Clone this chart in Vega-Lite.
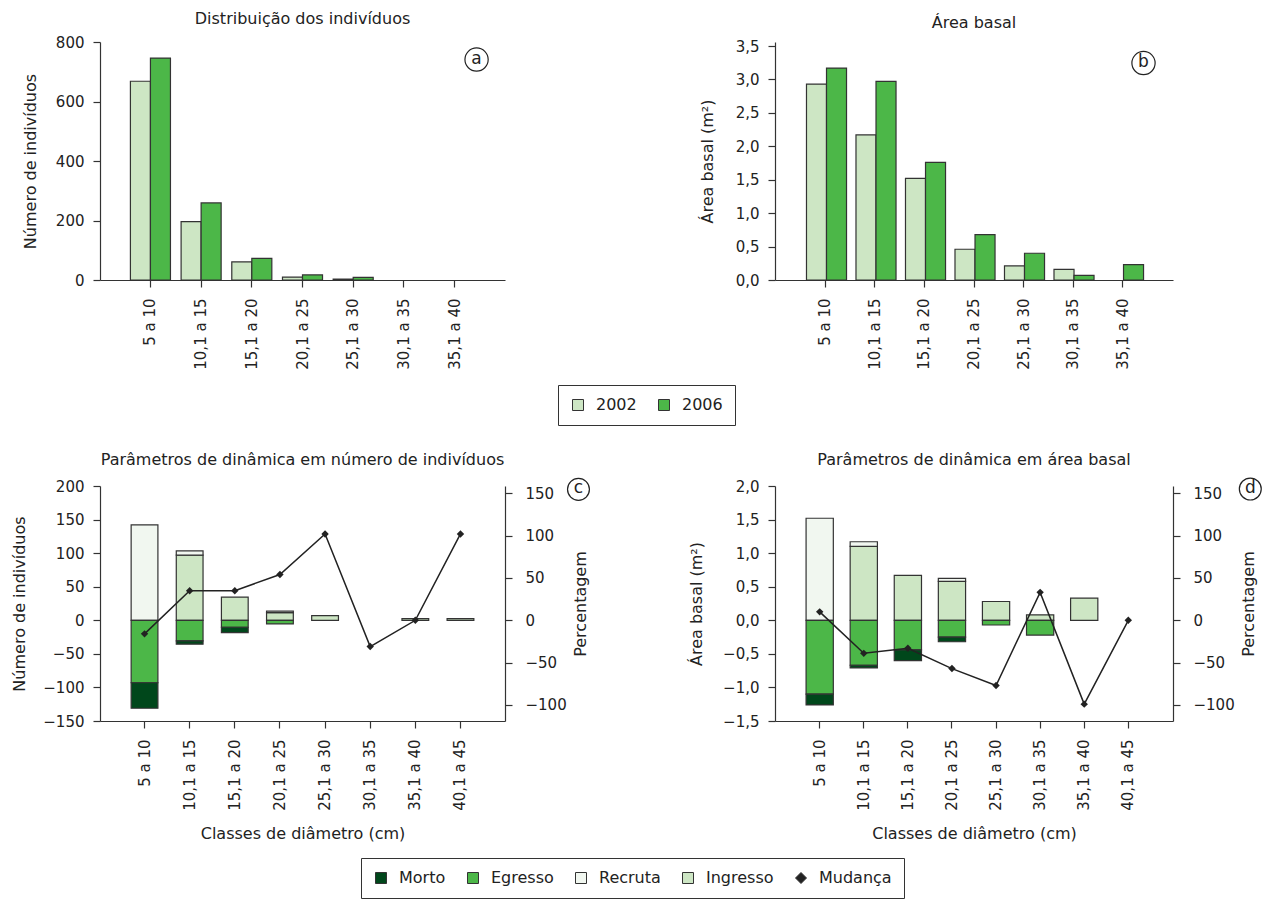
{
  "$schema": "https://vega.github.io/schema/vega-lite/v6.json",
  "padding": {"left": 11, "top": 11, "right": 5, "bottom": 5},
  "datasets": {
    "ind": [
      {"classe": "5 a 10", "ano": "2002", "n": 668}, {"classe": "5 a 10", "ano": "2006", "n": 746},
      {"classe": "10,1 a 15", "ano": "2002", "n": 196}, {"classe": "10,1 a 15", "ano": "2006", "n": 259},
      {"classe": "15,1 a 20", "ano": "2002", "n": 61}, {"classe": "15,1 a 20", "ano": "2006", "n": 73},
      {"classe": "20,1 a 25", "ano": "2002", "n": 10}, {"classe": "20,1 a 25", "ano": "2006", "n": 17},
      {"classe": "25,1 a 30", "ano": "2002", "n": 3}, {"classe": "25,1 a 30", "ano": "2006", "n": 9}
    ],
    "ab": [
      {"classe": "5 a 10", "ano": "2002", "area": 2.93}, {"classe": "5 a 10", "ano": "2006", "area": 3.17},
      {"classe": "10,1 a 15", "ano": "2002", "area": 2.17}, {"classe": "10,1 a 15", "ano": "2006", "area": 2.97},
      {"classe": "15,1 a 20", "ano": "2002", "area": 1.52}, {"classe": "15,1 a 20", "ano": "2006", "area": 1.76},
      {"classe": "20,1 a 25", "ano": "2002", "area": 0.46}, {"classe": "20,1 a 25", "ano": "2006", "area": 0.68},
      {"classe": "25,1 a 30", "ano": "2002", "area": 0.21}, {"classe": "25,1 a 30", "ano": "2006", "area": 0.40},
      {"classe": "30,1 a 35", "ano": "2002", "area": 0.16}, {"classe": "30,1 a 35", "ano": "2006", "area": 0.07},
      {"classe": "35,1 a 40", "ano": "2006", "area": 0.23}
    ],
    "dinN": [
      {"classe": "5 a 10", "tipo": "Recruta", "valor": 142}, {"classe": "5 a 10", "tipo": "Egresso", "valor": -93}, {"classe": "5 a 10", "tipo": "Morto", "valor": -38},
      {"classe": "10,1 a 15", "tipo": "Ingresso", "valor": 97}, {"classe": "10,1 a 15", "tipo": "Recruta", "valor": 6.5}, {"classe": "10,1 a 15", "tipo": "Egresso", "valor": -30.6}, {"classe": "10,1 a 15", "tipo": "Morto", "valor": -5},
      {"classe": "15,1 a 20", "tipo": "Ingresso", "valor": 34.6}, {"classe": "15,1 a 20", "tipo": "Egresso", "valor": -10.4}, {"classe": "15,1 a 20", "tipo": "Morto", "valor": -8},
      {"classe": "20,1 a 25", "tipo": "Ingresso", "valor": 11.5}, {"classe": "20,1 a 25", "tipo": "Recruta", "valor": 2}, {"classe": "20,1 a 25", "tipo": "Egresso", "valor": -5.4},
      {"classe": "25,1 a 30", "tipo": "Ingresso", "valor": 7},
      {"classe": "35,1 a 40", "tipo": "Ingresso", "valor": 2.5},
      {"classe": "40,1 a 45", "tipo": "Ingresso", "valor": 2.5}
    ],
    "dinA": [
      {"classe": "5 a 10", "tipo": "Recruta", "valor": 1.52}, {"classe": "5 a 10", "tipo": "Egresso", "valor": -1.10}, {"classe": "5 a 10", "tipo": "Morto", "valor": -0.16},
      {"classe": "10,1 a 15", "tipo": "Ingresso", "valor": 1.10}, {"classe": "10,1 a 15", "tipo": "Recruta", "valor": 0.07}, {"classe": "10,1 a 15", "tipo": "Egresso", "valor": -0.67}, {"classe": "10,1 a 15", "tipo": "Morto", "valor": -0.04},
      {"classe": "15,1 a 20", "tipo": "Ingresso", "valor": 0.67}, {"classe": "15,1 a 20", "tipo": "Egresso", "valor": -0.44}, {"classe": "15,1 a 20", "tipo": "Morto", "valor": -0.16},
      {"classe": "20,1 a 25", "tipo": "Ingresso", "valor": 0.58}, {"classe": "20,1 a 25", "tipo": "Recruta", "valor": 0.045}, {"classe": "20,1 a 25", "tipo": "Egresso", "valor": -0.25}, {"classe": "20,1 a 25", "tipo": "Morto", "valor": -0.07},
      {"classe": "25,1 a 30", "tipo": "Ingresso", "valor": 0.28}, {"classe": "25,1 a 30", "tipo": "Egresso", "valor": -0.07},
      {"classe": "30,1 a 35", "tipo": "Ingresso", "valor": 0.08}, {"classe": "30,1 a 35", "tipo": "Egresso", "valor": -0.22},
      {"classe": "35,1 a 40", "tipo": "Ingresso", "valor": 0.33}
    ],
    "mudN": [
      {"classe": "5 a 10", "pct": -16}, {"classe": "10,1 a 15", "pct": 35}, {"classe": "15,1 a 20", "pct": 35}, {"classe": "20,1 a 25", "pct": 54},
      {"classe": "25,1 a 30", "pct": 102}, {"classe": "30,1 a 35", "pct": -31}, {"classe": "35,1 a 40", "pct": 0}, {"classe": "40,1 a 45", "pct": 102}
    ],
    "mudA": [
      {"classe": "5 a 10", "pct": 10}, {"classe": "10,1 a 15", "pct": -39}, {"classe": "15,1 a 20", "pct": -33}, {"classe": "20,1 a 25", "pct": -57},
      {"classe": "25,1 a 30", "pct": -77}, {"classe": "30,1 a 35", "pct": 33}, {"classe": "35,1 a 40", "pct": -99}, {"classe": "40,1 a 45", "pct": 0}
    ]
  },
  "concat": [
    {
      "width": 405, "height": 238,
      "title": "Distribuição dos indivíduos",
      "layer": [
        {
          "data": {"name": "ind"},
          "mark": {"type": "bar", "stroke": "#333", "strokeWidth": 1.2},
          "encoding": {
            "x": {"field": "classe", "type": "nominal",
                  "scale": {"domain": ["5 a 10","10,1 a 15","15,1 a 20","20,1 a 25","25,1 a 30","30,1 a 35","35,1 a 40"], "paddingInner": 0.21, "paddingOuter": 0.6},
                  "axis": {"title": null, "labelAngle": -90, "labelPadding": 11}},
            "xOffset": {"field": "ano", "type": "nominal", "scale": {"domain": ["2002", "2006"], "paddingInner": 0}},
            "y": {"field": "n", "type": "quantitative", "scale": {"domain": [0, 800], "nice": false},
                  "axis": {"values": [0, 200, 400, 600, 800], "tickCount": 20, "title": "Número de indivíduos", "titlePadding": 17}},
            "color": {"field": "ano", "type": "nominal",
                      "scale": {"domain": ["2002", "2006"], "range": ["#cde6c4", "#4cb748"]},
                      "legend": {"orient": "none", "legendX": 458, "legendY": 343, "direction": "horizontal", "title": null, "columnPadding": 19}}
          }
        },
        {
          "data": {"values": [{"letra": "a"}]},
          "mark": {"type": "point", "shape": "circle", "size": 540, "filled": false, "stroke": "#222", "strokeWidth": 1.2, "opacity": 1, "xOffset": 22},
          "encoding": {"x": {"datum": "35,1 a 40"}, "y": {"datum": 741}}
        },
        {
          "data": {"values": [{"letra": "a"}]},
          "mark": {"type": "text", "fontSize": 17, "color": "#222", "baseline": "middle", "align": "center", "xOffset": 22, "yOffset": -1},
          "encoding": {"x": {"datum": "35,1 a 40"}, "y": {"datum": 741}, "text": {"field": "letra"}}
        }
      ]
    },
    {
      "width": 398, "height": 238,
      "title": "Área basal",
      "layer": [
        {
          "data": {"name": "ab"},
          "mark": {"type": "bar", "stroke": "#333", "strokeWidth": 1.2},
          "encoding": {
            "x": {"field": "classe", "type": "nominal",
                  "scale": {"domain": ["5 a 10","10,1 a 15","15,1 a 20","20,1 a 25","25,1 a 30","30,1 a 35","35,1 a 40"], "paddingInner": 0.232, "paddingOuter": 0.636},
                  "axis": {"title": null, "labelAngle": -90, "labelPadding": 11}},
            "xOffset": {"field": "ano", "type": "nominal", "scale": {"domain": ["2002", "2006"], "paddingInner": 0}},
            "y": {"field": "area", "type": "quantitative", "scale": {"domain": [0, 3.56], "nice": false},
                  "axis": {"values": [0, 0.5, 1, 1.5, 2, 2.5, 3, 3.5], "tickCount": 20, "title": "Área basal (m²)", "titlePadding": 20,
                           "labelExpr": "replace(format(datum.value, '.1f'), '.', ',')"}},
            "color": {"field": "ano", "type": "nominal",
                      "scale": {"domain": ["2002", "2006"], "range": ["#cde6c4", "#4cb748"]},
                      "legend": null}
          }
        },
        {
          "data": {"values": [{"letra": "b"}]},
          "mark": {"type": "point", "shape": "circle", "size": 540, "filled": false, "stroke": "#222", "strokeWidth": 1.2, "opacity": 1, "xOffset": 21},
          "encoding": {"x": {"datum": "35,1 a 40"}, "y": {"datum": 3.245}}
        },
        {
          "data": {"values": [{"letra": "b"}]},
          "mark": {"type": "text", "fontSize": 17, "color": "#222", "baseline": "middle", "align": "center", "xOffset": 21, "yOffset": -1},
          "encoding": {"x": {"datum": "35,1 a 40"}, "y": {"datum": 3.245}, "text": {"field": "letra"}}
        }
      ]
    },
    {
      "width": 405, "height": 235,
      "title": "Parâmetros de dinâmica em número de indivíduos",
      "resolve": {"scale": {"y": "independent"}},
      "layer": [
        {
          "layer": [
            {
              "data": {"name": "dinN"},
              "mark": {"type": "bar", "stroke": "#333", "strokeWidth": 1.2},
              "encoding": {
                "x": {"field": "classe", "type": "nominal",
                      "scale": {"domain": ["5 a 10","10,1 a 15","15,1 a 20","20,1 a 25","25,1 a 30","30,1 a 35","35,1 a 40","40,1 a 45"], "paddingInner": 0.407, "paddingOuter": 0.69},
                      "axis": {"title": "Classes de diâmetro (cm)", "labelAngle": -90, "labelPadding": 11, "titlePadding": 15}},
                "y": {"field": "valor", "type": "quantitative", "aggregate": "sum", "stack": "zero",
                      "scale": {"domain": [-150, 200], "nice": false},
                      "axis": {"orient": "left", "values": [-150, -100, -50, 0, 50, 100, 150, 200], "tickCount": 20, "title": "Número de indivíduos", "titlePadding": 15}},
                "order": {"field": "tipo", "sort": "ascending"},
                "color": {"field": "tipo", "type": "nominal",
                          "scale": {"domain": ["Morto", "Egresso", "Recruta", "Ingresso", "Mudança"], "range": ["#00471b", "#4cb748", "#f1f7f0", "#cde6c4", "#222222"]},
                          "legend": {"orient": "none", "legendX": 261, "legendY": 372, "direction": "horizontal", "title": null, "columnPadding": 19,
                                     "encode": {"symbols": {"update": {"shape": {"signal": "datum.value === 'Mudança' ? 'diamond' : 'square'"}}}}}}
              }
            },
            {
              "mark": {"type": "rule", "color": "#222", "strokeWidth": 1.2},
              "encoding": {"y": {"datum": 0}}
            },
            {
              "data": {"values": [{"letra": "c"}]},
              "mark": {"type": "point", "shape": "circle", "size": 480, "filled": false, "stroke": "#222", "strokeWidth": 1.2, "opacity": 1, "xOffset": 118},
              "encoding": {"x": {"datum": "40,1 a 45"}, "y": {"datum": 195}}
            },
            {
              "data": {"values": [{"letra": "c"}]},
              "mark": {"type": "text", "fontSize": 17, "color": "#222", "baseline": "middle", "align": "center", "xOffset": 118, "yOffset": -1},
              "encoding": {"x": {"datum": "40,1 a 45"}, "y": {"datum": 195}, "text": {"field": "letra"}}
            }
          ]
        },
        {
          "data": {"name": "mudN"},
          "encoding": {
            "x": {"field": "classe", "type": "nominal"},
            "y": {"field": "pct", "type": "quantitative", "scale": {"domain": [-118.9, 158.6], "nice": false},
                  "axis": {"orient": "right", "values": [-100, -50, 0, 50, 100, 150], "tickCount": 20, "title": "Percentagem", "titleAngle": -90, "labelPadding": 13, "titlePadding": 22}},
            "order": {"value": null}
          },
          "layer": [
            {"mark": {"type": "line", "color": "#222", "strokeWidth": 1.5}},
            {"mark": {"type": "point", "shape": "diamond", "filled": true, "color": "#222", "size": 55, "opacity": 1}}
          ]
        }
      ]
    },
    {
      "width": 398, "height": 235,
      "title": "Parâmetros de dinâmica em área basal",
      "resolve": {"scale": {"y": "independent"}},
      "layer": [
        {
          "layer": [
            {
              "data": {"name": "dinA"},
              "mark": {"type": "bar", "stroke": "#333", "strokeWidth": 1.2},
              "encoding": {
                "x": {"field": "classe", "type": "nominal",
                      "scale": {"domain": ["5 a 10","10,1 a 15","15,1 a 20","20,1 a 25","25,1 a 30","30,1 a 35","35,1 a 40","40,1 a 45"], "paddingInner": 0.382, "paddingOuter": 0.705},
                      "axis": {"title": "Classes de diâmetro (cm)", "labelAngle": -90, "labelPadding": 11, "titlePadding": 15}},
                "y": {"field": "valor", "type": "quantitative", "aggregate": "sum", "stack": "zero",
                      "scale": {"domain": [-1.5, 2.0], "nice": false},
                      "axis": {"orient": "left", "values": [-1.5, -1, -0.5, 0, 0.5, 1, 1.5, 2], "tickCount": 20, "title": "Área basal (m²)", "titlePadding": 18,
                               "labelExpr": "replace(format(datum.value, '.1f'), '.', ',')"}},
                "order": {"field": "tipo", "sort": "ascending"},
                "color": {"field": "tipo", "type": "nominal",
                          "scale": {"domain": ["Morto", "Egresso", "Recruta", "Ingresso", "Mudança"], "range": ["#00471b", "#4cb748", "#f1f7f0", "#cde6c4", "#222222"]},
                          "legend": null}
              }
            },
            {
              "mark": {"type": "rule", "color": "#222", "strokeWidth": 1.2},
              "encoding": {"y": {"datum": 0}}
            },
            {
              "data": {"values": [{"letra": "d"}]},
              "mark": {"type": "point", "shape": "circle", "size": 480, "filled": false, "stroke": "#222", "strokeWidth": 1.2, "opacity": 1, "xOffset": 122},
              "encoding": {"x": {"datum": "40,1 a 45"}, "y": {"datum": 1.955}}
            },
            {
              "data": {"values": [{"letra": "d"}]},
              "mark": {"type": "text", "fontSize": 17, "color": "#222", "baseline": "middle", "align": "center", "xOffset": 122, "yOffset": -1},
              "encoding": {"x": {"datum": "40,1 a 45"}, "y": {"datum": 1.955}, "text": {"field": "letra"}}
            }
          ]
        },
        {
          "data": {"name": "mudA"},
          "encoding": {
            "x": {"field": "classe", "type": "nominal"},
            "y": {"field": "pct", "type": "quantitative", "scale": {"domain": [-118.9, 158.6], "nice": false},
                  "axis": {"orient": "right", "values": [-100, -50, 0, 50, 100, 150], "tickCount": 20, "title": "Percentagem", "titleAngle": -90, "labelPadding": 13, "titlePadding": 22}},
            "order": {"value": null}
          },
          "layer": [
            {"mark": {"type": "line", "color": "#222", "strokeWidth": 1.5}},
            {"mark": {"type": "point", "shape": "diamond", "filled": true, "color": "#222", "size": 55, "opacity": 1}}
          ]
        }
      ]
    }
  ],
  "columns": 2,
  "bounds": "flush",
  "spacing": {"row": 206, "column": 270},
  "resolve": {"scale": {"x": "independent", "y": "independent", "color": "independent"}, "legend": {"color": "independent"}},
  "config": {
    "font": "DejaVu Sans",
    "view": {"stroke": null},
    "axis": {
      "labelFont": "DejaVu Sans", "labelFontSize": 15, "labelColor": "#222",
      "titleFont": "DejaVu Sans", "titleFontSize": 16, "titleFontWeight": "normal", "titleColor": "#222",
      "domainColor": "#333", "domainWidth": 1.2, "tickColor": "#333", "tickWidth": 1.2, "tickSize": 7,
      "labelPadding": 9, "titlePadding": 12, "grid": false
    },
    "title": {"font": "DejaVu Sans", "fontSize": 16, "fontWeight": "normal", "color": "#222", "frame": "group", "anchor": "middle", "offset": 8},
    "legend": {
      "labelFont": "DejaVu Sans", "labelFontSize": 16, "labelColor": "#222",
      "symbolStrokeColor": "#333", "symbolStrokeWidth": 1, "symbolSize": 121, "symbolType": "square", "symbolOpacity": 1,
      "labelOffset": 10, "columnPadding": 22, "padding": 12, "strokeColor": "#333", "fillColor": "white", "cornerRadius": 0
    }
  }
}
